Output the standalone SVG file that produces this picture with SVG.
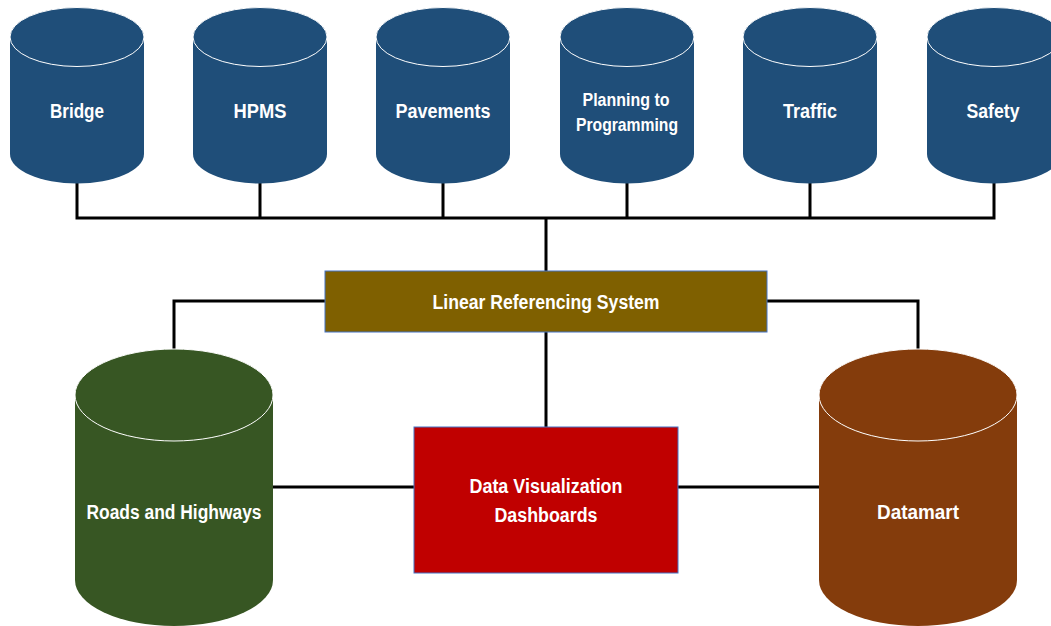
<svg xmlns="http://www.w3.org/2000/svg" width="1051" height="626" viewBox="0 0 1051 626">
<style>
.lbl{font-family:"Liberation Sans",Arial,sans-serif;font-weight:bold;font-size:20px;fill:#fff;text-anchor:middle}
.wire{stroke:#000;stroke-width:3;fill:none;stroke-linecap:square}
.cap{stroke:#fff;stroke-width:1}
.box{stroke:#4472C4;stroke-width:1}
</style>
<rect width="1051" height="626" fill="#fff"/>
<g id="connectors">
<path class="wire" d="M77,183 V218 M260,183 V218 M443,183 V218 M627,183 V218 M810,183 V218 M994,183 V218 M77,218 H994 M546,218 V271"/>
<path class="wire" d="M174,348 V301 H325 M767,301 H918 V350 M546,332 V427"/>
<path class="wire" d="M273,487 H414 M678,487 H818"/>
</g>
<g id="bridge">
<path fill="#1F4E79" d="M10,37 V154 A67,29.5 0 0 0 144,154 V37 A67,29.5 0 0 0 10,37 Z"/>
<ellipse class="cap" fill="#1F4E79" cx="77" cy="37" rx="67" ry="29.5"/>
<text class="lbl" x="77" y="118" textLength="54" lengthAdjust="spacingAndGlyphs">Bridge</text>
</g>
<g id="hpms">
<path fill="#1F4E79" d="M193,37 V154 A67,29.5 0 0 0 327,154 V37 A67,29.5 0 0 0 193,37 Z"/>
<ellipse class="cap" fill="#1F4E79" cx="260" cy="37" rx="67" ry="29.5"/>
<text class="lbl" x="260" y="118" textLength="53" lengthAdjust="spacingAndGlyphs">HPMS</text>
</g>
<g id="pavements">
<path fill="#1F4E79" d="M376,37 V154 A67,29.5 0 0 0 510,154 V37 A67,29.5 0 0 0 376,37 Z"/>
<ellipse class="cap" fill="#1F4E79" cx="443" cy="37" rx="67" ry="29.5"/>
<text class="lbl" x="443" y="118" textLength="95" lengthAdjust="spacingAndGlyphs">Pavements</text>
</g>
<g id="planning">
<path fill="#1F4E79" d="M560,37 V154 A67,29.5 0 0 0 694,154 V37 A67,29.5 0 0 0 560,37 Z"/>
<ellipse class="cap" fill="#1F4E79" cx="627" cy="37" rx="67" ry="29.5"/>
<text class="lbl" x="626" y="106" style="font-size:19px" textLength="87" lengthAdjust="spacingAndGlyphs">Planning to</text>
<text class="lbl" x="627" y="131" style="font-size:19px" textLength="102" lengthAdjust="spacingAndGlyphs">Programming</text>
</g>
<g id="traffic">
<path fill="#1F4E79" d="M743,37 V154 A67,29.5 0 0 0 877,154 V37 A67,29.5 0 0 0 743,37 Z"/>
<ellipse class="cap" fill="#1F4E79" cx="810" cy="37" rx="67" ry="29.5"/>
<text class="lbl" x="810" y="118" textLength="54" lengthAdjust="spacingAndGlyphs">Traffic</text>
</g>
<g id="safety">
<path fill="#1F4E79" d="M927,37 V154 A67,29.5 0 0 0 1061,154 V37 A67,29.5 0 0 0 927,37 Z"/>
<ellipse class="cap" fill="#1F4E79" cx="994" cy="37" rx="67" ry="29.5"/>
<text class="lbl" x="993" y="118" textLength="53" lengthAdjust="spacingAndGlyphs">Safety</text>
</g>
<g id="lrs">
<rect class="box" fill="#7F6000" x="325" y="271" width="442" height="61"/>
<text class="lbl" x="546" y="309" textLength="227" lengthAdjust="spacingAndGlyphs">Linear Referencing System</text>
</g>
<g id="roads">
<path fill="#375623" d="M75,395 V580 A99,46 0 0 0 273,580 V395 A99,46 0 0 0 75,395 Z"/>
<ellipse class="cap" fill="#375623" cx="174" cy="395" rx="99" ry="46"/>
<text class="lbl" x="174" y="519" textLength="175" lengthAdjust="spacingAndGlyphs">Roads and Highways</text>
</g>
<g id="dataviz">
<rect class="box" fill="#C00000" x="414" y="427" width="264" height="146"/>
<text class="lbl" x="546" y="493" textLength="153" lengthAdjust="spacingAndGlyphs">Data Visualization</text>
<text class="lbl" x="546" y="522" textLength="103" lengthAdjust="spacingAndGlyphs">Dashboards</text>
</g>
<g id="datamart">
<path fill="#843C0C" d="M819,395 V580 A99,46 0 0 0 1017,580 V395 A99,46 0 0 0 819,395 Z"/>
<ellipse class="cap" fill="#843C0C" cx="918" cy="395" rx="99" ry="46"/>
<text class="lbl" x="918" y="519" textLength="82" lengthAdjust="spacingAndGlyphs">Datamart</text>
</g>
</svg>
